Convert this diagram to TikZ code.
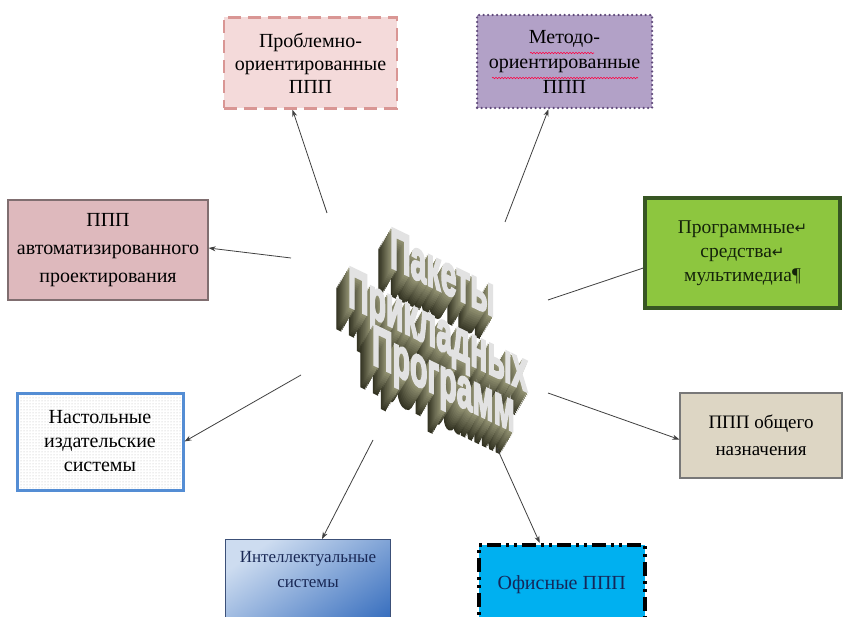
\documentclass[tikz,border=0pt]{standalone}
\usepackage{fontspec}
\setmainfont{Liberation Serif}
\newfontfamily\symfont{DejaVu Sans}
\font\wafnt="Liberation Sans/B:embolden=4" at 50pt
\usetikzlibrary{arrows.meta, patterns, decorations.pathmorphing}
\definecolor{wadark}{RGB}{48,48,32}
\definecolor{walight}{RGB}{150,150,118}
\definecolor{wafront}{RGB}{226,226,226}
\tikzset{box/.style={rectangle, align=center, inner sep=0pt, text=black, font=\fontsize{20}{23}\selectfont}}
\tikzset{arr/.style={draw=black!75, line width=0.8pt, -{Stealth[length=7pt, width=5pt]}}}
\tikzset{link/.style={draw=black!75, line width=0.8pt}}
\tikzset{wa/.style={font=\wafnt, anchor=north west, inner sep=0pt, yslant=-0.48, xscale=0.57, yscale=1.15}}
\tikzset{spell/.style={draw=red!75!magenta, line width=0.6pt, decoration={snake, amplitude=0.7pt, segment length=3pt}, decorate}}
\begin{document}
\begin{tikzpicture}[x=1pt, y=-1pt]
\useasboundingbox (0,0) rectangle (843,617);
\fill[white] (0,0) rectangle (843,617);
\clip (0,0) rectangle (843,617);

\node[box, minimum width=173, minimum height=91, fill={rgb,255:red,244;green,218;blue,218}, draw={rgb,255:red,217;green,150;blue,148}, line width=2.5pt, dash pattern=on 13pt off 7pt] (b1) at (310.5,63) {Проблемно-\\ориентированные\\ППП};
\node[box, minimum width=175, minimum height=93, fill={rgb,255:red,178;green,161;blue,199}, draw={rgb,255:red,95;green,73;blue,122}, line width=2.5pt, dash pattern=on 0pt off 4.5pt, line cap=round, font=\fontsize{20}{25}\selectfont] (b2) at (564.5,61.5) {Методо-\\ориентированные\\ППП};
\node[box, minimum width=200, minimum height=100, fill={rgb,255:red,222;green,185;blue,189}, draw={rgb,255:red,128;green,110;blue,112}, line width=1.2pt, font=\fontsize{20}{28}\selectfont] (b3) at (108,250) {ППП\\автоматизированного\\проектирования};
\node[box, minimum width=195, minimum height=110, fill={rgb,255:red,141;green,198;blue,63}, draw={rgb,255:red,55;green,86;blue,35}, line width=3.5pt, text={rgb,255:red,20;green,35;blue,10}, font=\fontsize{19.5}{24}\selectfont] (b4) at (742.5,253) {Программные{\symfont\fontsize{15}{15}\selectfont↵}\\средства{\symfont\fontsize{15}{15}\selectfont↵}\\мультимедиа¶};
\node[box, minimum width=166, minimum height=97, pattern=dots, pattern color=gray!55, draw={rgb,255:red,84;green,141;blue,212}, line width=3pt, font=\fontsize{20}{24}\selectfont] (b5) at (100,441.5) {Настольные\\издательские\\системы};
\node[box, minimum width=162, minimum height=85, fill={rgb,255:red,221;green,214;blue,196}, draw={rgb,255:red,120;green,120;blue,120}, line width=1.2pt, font=\fontsize{19}{27}\selectfont] (b6) at (761,435.5) {ППП общего\\назначения};
\node[box, anchor=north west, minimum width=165, minimum height=110, top color={rgb,255:red,205;green,220;blue,240}, bottom color={rgb,255:red,55;green,110;blue,190}, shading angle=35, draw={rgb,255:red,60;green,80;blue,120}, line width=1pt] (b7) at (225,539) {};
\node[box, text={rgb,255:red,25;green,40;blue,85}, font=\fontsize{17}{25}\selectfont] (t7) at ([yshift=-31pt]b7.north) {Интеллектуальные\\системы};
\node[box, anchor=north west, minimum width=166, minimum height=110, fill={rgb,255:red,0;green,176;blue,240}, draw=black, line width=3.5pt, dash pattern=on 14pt off 5pt on 3pt off 5pt on 3pt off 5pt] (b8) at (477,543) {};
\node[box, text={rgb,255:red,20;green,40;blue,90}] (t8) at ([yshift=-42pt]b8.north) {Офисные ППП};

\draw[spell] (530,53) -- (594,53);
\draw[spell] (492,78) -- (638,78);

\foreach \ln/\cx/\cy/\txt in {1/390/227/Пакеты, 2/348/266/Прикладных, 3/372/324/Программ}{
  \foreach \k [evaluate=\k as \pc using int(8*\k)] in {12,...,1}
    \node[wa, text=wadark!\pc!walight] (wa\ln-\k) at (\cx-1.1*\k, \cy+1.8*\k) {\txt};
  \node[wa, text=wafront] (wa\ln) at (\cx,\cy) {\txt};
}

\coordinate (s1) at (327,213);
\coordinate (s2) at (505,222);
\coordinate (s3) at (291,258);
\coordinate (s4) at (548,300);
\coordinate (s5) at (301,375);
\coordinate (s6) at (548,393);
\coordinate (s7) at (373,440);
\coordinate (s8) at (497,448);
\draw[arr] (s1) -- ([xshift=-18pt]b1.south);
\draw[arr] (s2) -- ([xshift=-16pt]b2.south);
\draw[arr] (s3) -- ([yshift=2pt]b3.east);
\draw[link] (s4) -- ([yshift=-15pt]b4.west);
\draw[arr] (s5) -- (b5.east);
\draw[arr] (s6) -- ([yshift=-4pt]b6.west);
\draw[arr] (s7) -- ([xshift=14pt]b7.north);
\draw[arr] (s8) -- ([xshift=-22pt]b8.north);
\end{tikzpicture}
\end{document}
